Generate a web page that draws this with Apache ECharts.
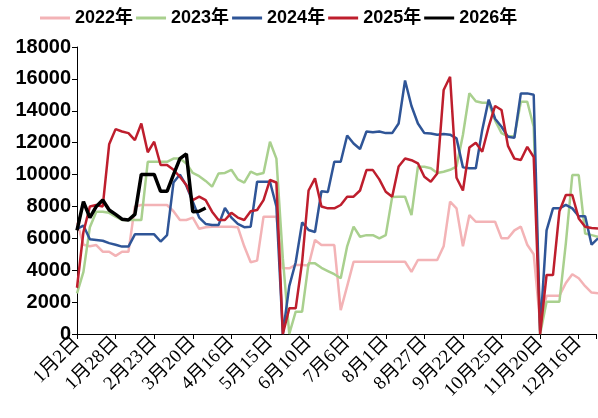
<!DOCTYPE html>
<html>
<head>
<meta charset="utf-8">
<script src="https://cdn.jsdelivr.net/npm/echarts@6/dist/echarts.min.js"></script>
<style>
  html, body { margin: 0; padding: 0; background: #fff; }
</style>
</head>
<body>
<div id="main" style="width: 598px; height: 418px"></div>
<script>
// one sample every 3 trading days, axis label every 18 trading days
var STEP = 3;
var tickLabels = ["1月2日", "1月28日", "2月23日", "3月20日", "4月16日", "5月15日", "6月10日",
  "7月6日", "8月1日", "8月27日", "9月22日", "10月25日", "11月20日", "12月16日"];
var seriesNames = ["2022年", "2023年", "2024年", "2025年", "2026年"];

var y2022 = [7000, 5600, 5500, 5580, 5160, 5160, 4900, 5160, 5160, 8000,
  8090, 8090, 8090, 8090, 8090, 7700, 7150, 7150, 7300, 6600,
  6700, 6730, 6730, 6730, 6730, 6700, 5500, 4500, 4600, 7360,
  7360, 7360, 4120, 4120, 4330, 4330, 4300, 5900, 5580, 5580,
  5580, 1500, 3000, 4530, 4530, 4530, 4530, 4530, 4530, 4530,
  4530, 4530, 3900, 4640, 4640, 4640, 4640, 5500, 8300, 7880,
  5500, 7460, 7040, 7040, 7040, 7040, 6000, 6000, 6500, 6730,
  5600, 5000, 700, 2400, 2400, 2400, 3200, 3750, 3500, 3000,
  2600, 2550];
var y2023 = [2550, 3900, 6700, 7670, 7670, 7600, 7360, 7150, 7150, 7150,
  7150, 10800, 10800, 10800, 10800, 11000, 11000, 10700, 10100, 9900,
  9600, 9240, 10070, 10100, 10300, 9700, 9500, 10180, 10000, 10100,
  12060, 11000, 4740, 0, 1400, 1400, 4430, 4430, 4150, 3950,
  3750, 3500, 5500, 6730, 6100, 6200, 6200, 6000, 6200, 8600,
  8610, 8610, 7460, 10490, 10490, 10400, 10100, 10180, 10300, 10500,
  12500, 15100, 14600, 14500, 14500, 13400, 12600, 12400, 12400, 14570,
  14570, 13000, 0, 2030, 2030, 2030, 5700, 9970, 9970, 6300,
  6200, 6100];
var y2024 = [6600, 6800, 5940, 5900, 5850, 5700, 5600, 5480, 5480, 6250,
  6250, 6250, 6250, 5800, 6200, 9500, 10000, 9300, 8300, 7300,
  6900, 6830, 6830, 7900, 7300, 6900, 6700, 6730, 9550, 9550,
  9550, 8000, 0, 3000, 4500, 7000, 6520, 6400, 8950, 8900,
  10800, 10800, 12450, 11950, 11600, 12700, 12650, 12700, 12600, 12600,
  13200, 15900, 14300, 13200, 12600, 12580, 12500, 12550, 12500, 12270,
  10450, 10400, 10400, 12800, 14700, 13500, 13000, 12370, 12300, 15090,
  15090, 15000, 200, 6500, 7880, 7880, 8100, 7880, 7380, 7380,
  5600, 6000];
var y2025 = [2900, 6400, 8000, 8090, 8000, 11900, 12850, 12700, 12600, 12160,
  13200, 11400, 12060, 10600, 10600, 10300, 9860, 9340, 8400, 8610,
  8400, 7670, 7150, 7150, 7600, 7300, 7150, 7700, 7780, 8400,
  9660, 9500, 0, 1610, 1610, 4530, 9000, 9760, 8000, 7880,
  7880, 8090, 8610, 8610, 9000, 10280, 10280, 9700, 8920, 8610,
  10500, 11010, 10900, 10700, 9860, 9550, 10070, 15300, 16130, 9800,
  9000, 11700, 12000, 11430, 13000, 14300, 14050, 11800, 11000, 10910,
  11740, 11100, 0, 3700, 3700, 7700, 8720, 8720, 7250, 6730,
  6650, 6620];
var y2026 = [6500, 8300, 7300, 8000, 8400, 7780, 7500, 7200, 7150, 7500,
  10010, 10010, 10010, 8950, 8950, 10000, 11000, 11300, 7670, 7700,
  7900];

var colors = ["#f3b3b6", "#a9d08e", "#2f5597", "#be1e2d", "#000000"];
var widths = [2.5, 2.5, 2.5, 2.5, 3.5];

function toPairs(vals) {
  return vals.map(function (v, k) { return [k * STEP, v]; });
}

var chart = echarts.init(document.getElementById("main"));
var allData = [y2022, y2023, y2024, y2025, y2026];
var series = allData.map(function (vals, n) {
  return {
    name: seriesNames[n],
    type: "line",
    data: toPairs(vals),
    symbol: "none",
    color: colors[n],
    lineStyle: { color: colors[n], width: widths[n] }
  };
});

var option = {
  animation: false,
  legend: {
    data: seriesNames,
    icon: "rect",
    top: 4,
    left: 35,
    itemWidth: 30,
    itemHeight: 3,
    itemGap: 3,
    textStyle: {
      color: "#000",
      fontSize: 18,
      fontWeight: "bold",
      fontFamily: "'Liberation Sans', 'Noto Sans CJK SC'"
    }
  },
  grid: { left: 77, right: 0, top: 47, bottom: 84 },
  xAxis: {
    type: "value",
    min: 0,
    max: 242,
    interval: 18,
    splitLine: { show: false },
    axisLine: { lineStyle: { color: "#000", width: 1 } },
    axisTick: { length: 5, lineStyle: { color: "#000" } },
    axisLabel: {
      rotate: 45,
      color: "#000",
      fontSize: 19,
      fontFamily: "'Liberation Serif', 'Noto Sans CJK SC'",
      margin: 6,
      formatter: function (v) {
        return v % 18 === 0 ? (tickLabels[v / 18] || "") : "";
      }
    }
  },
  yAxis: {
    type: "value",
    min: 0,
    max: 18000,
    interval: 2000,
    splitLine: { show: false },
    axisLine: { show: true, lineStyle: { color: "#000", width: 1 } },
    axisTick: { show: true, length: 5, lineStyle: { color: "#000" } },
    axisLabel: {
      color: "#000",
      fontSize: 20,
      fontWeight: "bold",
      fontFamily: "'Liberation Sans'",
      margin: 6,
      formatter: function (v) { return String(v); }
    }
  },
  series: series
};

chart.setOption(option);
</script>
</body>
</html>
